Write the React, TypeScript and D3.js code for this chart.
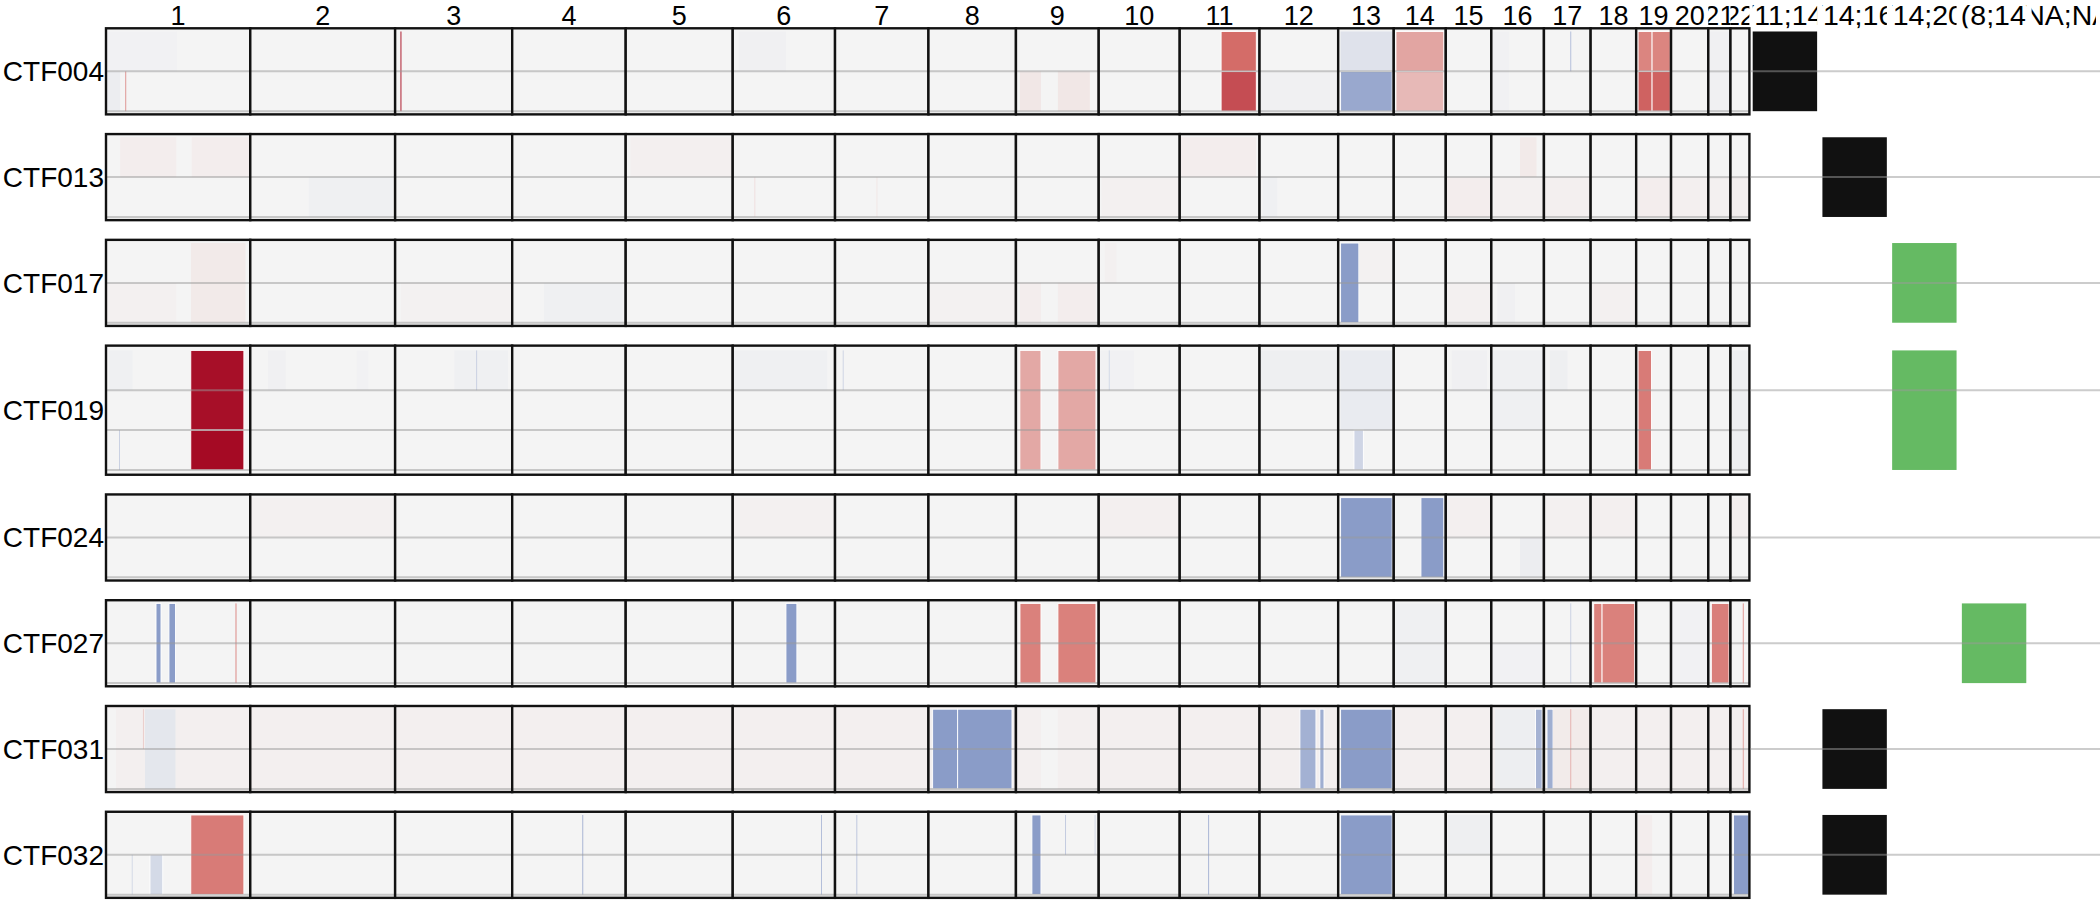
import * as d3 from "d3";
import { useEffect, useRef } from "react";

// chromosome facets, plotted span in Mb (acrocentric p-arms are not covered)
const chromosomes = ["1", "2", "3", "4", "5", "6", "7", "8", "9", "10", "11", "12", "13", "14", "15", "16", "17", "18", "19", "20", "21", "22"];
const chromLen = [244, 245, 198, 192, 181, 173, 158, 148, 140, 137, 135, 133, 94, 88, 77, 89, 79, 77, 59, 63, 37.5, 32];

const samples = ["CTF004", "CTF013", "CTF017", "CTF019", "CTF024", "CTF027", "CTF031", "CTF032"];
const trackCounts = [2, 2, 2, 3, 2, 2, 2, 2];
const baseValues = [0, 0, 0, 0, 0, 0, 0.035, 0];

const transTypes = ["t(11;14)", "t(14;16)", "t(14;20)", "t(8;14)", "t(NA;NA)"];
const sampleTrans = ["t(11;14)", "t(14;16)", "t(14;20)", "t(14;20)", null, "t(8;14)", "t(14;16)", "t(14;16)"];

// segments: [tracks, chromosome, start Mb, end Mb, log2 ratio]
const segCTF004 = [
  ["A", 1, 0, 120, -0.03],
  ["B", 1, 0, 24, -0.08],
  ["B", 1, 32.5, 33.8, 0.7],
  ["AB", 3, 9, 10.6, 1.8],
  ["A", 6, 10, 90, -0.04],
  ["B", 9, 6.6, 42.3, 0.1],
  ["B", 9, 71, 125, 0.1],
  ["A", 11, 70, 129.5, 1.05],
  ["B", 11, 70, 129.5, 1.35],
  ["B", 12, 0, 133, -0.04],
  ["A", 13, 4.1, 91.3, -0.2],
  ["B", 13, 4.1, 91.3, -0.86],
  ["A", 14, 3.7, 84.6, 0.6],
  ["B", 14, 3.7, 84.6, 0.45],
  ["AB", 16, 0, 30, -0.03],
  ["A", 17, 44.5, 45.6, -0.6],
  ["A", 19, 3.2, 26.9, 0.85],
  ["A", 19, 26.9, 57.7, 0.85],
  ["B", 19, 3.2, 26.9, 1.15],
  ["B", 19, 26.9, 57.7, 1.15],
  ["AB", 21, 0, 37.5, -0.04],
];

const segCTF013 = [
  ["A", 1, 24, 119, 0.05],
  ["A", 1, 145, 244, 0.05],
  ["B", 2, 99, 241, -0.05],
  ["A", 5, 8, 181, 0.04],
  ["B", 6, 36.5, 37.8, 0.15],
  ["B", 7, 70, 71.3, 0.1],
  ["B", 10, 5, 137, 0.03],
  ["A", 11, 2, 129, 0.05],
  ["B", 12, 5, 30, -0.05],
  ["B", 15, 0, 77, 0.05],
  ["A", 16, 48.5, 76.4, 0.08],
  ["B", 16, 5, 89, 0.03],
  ["B", 17, 0, 79, 0.04],
  ["B", 19, 0, 59, 0.05],
  ["B", 20, 0, 63, 0.04],
  ["B", 21, 0, 37.5, 0.03],
  ["B", 22, 0, 32, 0.04],
];

const segCTF017 = [
  ["B", 1, 0, 119, 0.03],
  ["AB", 1, 143.8, 236, 0.08],
  ["B", 3, 10, 198, 0.02],
  ["B", 4, 53.6, 187, -0.05],
  ["B", 8, 0, 148, 0.02],
  ["B", 9, 6.6, 42.3, 0.05],
  ["B", 9, 71, 135, 0.05],
  ["A", 10, 10, 30, 0.03],
  ["AB", 13, 4.1, 35, -1],
  ["A", 13, 35, 91.3, 0.02],
  ["B", 15, 0, 77, 0.03],
  ["B", 16, 10, 40, -0.04],
  ["B", 18, 0, 77, 0.03],
];

const segCTF019 = [
  ["A", 1, 5, 45, -0.05],
  ["C", 1, 22, 23.3, -0.4],
  ["AB", 1, 143.4, 233.2, 1.95],
  ["C", 1, 143.4, 233.2, 2.05],
  ["A", 2, 30, 60, -0.04],
  ["A", 2, 180, 200, -0.03],
  ["A", 3, 100, 191, -0.05],
  ["A", 3, 137, 138.3, -0.4],
  ["A", 6, 0, 160, -0.05],
  ["A", 7, 13, 14.3, -0.35],
  ["ABC", 9, 6.6, 42.3, 0.58],
  ["ABC", 9, 71, 135.3, 0.58],
  ["A", 10, 0, 60, -0.03],
  ["A", 10, 17, 18.3, -0.3],
  ["A", 12, 0, 133, -0.06],
  ["AB", 13, 4.1, 91.3, -0.1],
  ["C", 13, 26.7, 42.6, -0.35],
  ["A", 15, 10, 70, -0.04],
  ["AB", 16, 0, 89, -0.05],
  ["A", 17, 10, 40, -0.06],
  ["ABC", 19, 3.2, 25.9, 0.92],
  ["ABC", 22, 3, 32, -0.06],
];

const segCTF024 = [
  ["A", 2, 0, 245, 0.03],
  ["A", 6, 0, 173, 0.03],
  ["A", 10, 0, 137, 0.04],
  ["AB", 13, 4.1, 91.3, -1],
  ["AB", 14, 46, 84.6, -1],
  ["A", 15, 0, 77, 0.04],
  ["B", 16, 48.5, 85.7, -0.08],
  ["A", 17, 0, 79, 0.03],
  ["A", 18, 0, 77, 0.04],
  ["A", 22, 0, 32, 0.04],
];

const segCTF027 = [
  ["AB", 1, 84.6, 93, -1],
  ["AB", 1, 106.5, 117.5, -1],
  ["AB", 1, 219, 220.2, 0.8],
  ["AB", 6, 90, 108.5, -1],
  ["AB", 9, 6.8, 42.3, 0.88],
  ["AB", 9, 71, 135.3, 0.88],
  ["AB", 14, 0, 88, -0.05],
  ["B", 16, 0, 89, -0.03],
  ["AB", 17, 44.5, 45.6, -0.4],
  ["AB", 18, 5.2, 19.3, 0.88],
  ["AB", 18, 19.3, 74.5, 0.88],
  ["AB", 20, 0, 63, -0.03],
  ["AB", 21, 5.1, 35, 0.9],
  ["AB", 22, 20.8, 22.2, 0.7],
];

const segCTF031 = [
  ["AB", 1, 0, 17, 0],
  ["AB", 1, 66, 117.5, -0.15],
  ["A", 1, 62.5, 63.8, 0.3],
  ["AB", 8, 7.1, 49.4, -1],
  ["AB", 8, 49.4, 141.3, -1],
  ["AB", 9, 42.3, 71, 0],
  ["AB", 12, 68.3, 95.4, -0.76],
  ["AB", 12, 102, 109, -0.8],
  ["AB", 13, 4.1, 91.3, -1],
  ["AB", 16, 6.3, 74.8, -0.07],
  ["AB", 16, 74.8, 85.9, -0.75],
  ["AB", 17, 5.2, 15.4, -0.8],
  ["AB", 17, 15.4, 79, 0.07],
  ["AB", 17, 44.5, 45.6, 0.5],
  ["AB", 22, 20.8, 22.2, 0.6],
];

const segCTF032 = [
  ["B", 1, 43.5, 44.7, -0.3],
  ["B", 1, 74.4, 96, -0.3],
  ["AB", 1, 143.4, 233.2, 0.92],
  ["AB", 4, 118.5, 119.7, -0.7],
  ["AB", 6, 149.3, 150.5, -0.6],
  ["AB", 7, 36, 37.2, -0.5],
  ["AB", 9, 27, 42.3, -1],
  ["A", 9, 83, 84.2, -0.45],
  ["A", 9, 133, 134.2, -0.3],
  ["AB", 11, 48, 49.2, -0.7],
  ["AB", 13, 4.1, 91.3, -1],
  ["A", 15, 3.7, 75, -0.06],
  ["AB", 19, 3.2, 27, 0.05],
  ["AB", 22, 5, 31.3, -1],
];

const sampleSegments = [segCTF004, segCTF013, segCTF017, segCTF019, segCTF024, segCTF027, segCTF031, segCTF032];

const CopyNumberGrid = () => {
  const svgRef = useRef<SVGSVGElement>(null);
  const font = "'Liberation Sans', Arial, Helvetica, sans-serif";
  const transColor: Record<string, string> = {
    "t(11;14)": "#111111",
    "t(14;16)": "#111111",
    "t(14;20)": "#65ba63",
    "t(8;14)": "#65ba63",
  };

  const renderSVG = () => {
    const dims = {
      width: 2100,
      height: 900,
      left: 106,
      right: 1749.4,
      top: 28.3,
      trackH: 39.85,
      expand: 0.04,
      rowGap: 19.7,
      transLeft: 1752.7,
      transRight: 2096,
      labelY: 25,
    };

    const total = d3.sum(chromLen);
    const starts = [0, ...Array.from(d3.cumsum(chromLen))].slice(0, chromLen.length);
    const x = d3.scaleLinear([0, total], [dims.left, dims.right]);
    const color = d3
      .scaleLinear<string>()
      .domain([-1, 0, 1, 2])
      .range(["#8a9cc8", "#f4f4f4", "#d6716c", "#a50a24"])
      .clamp(true);
    const xt = d3
      .scaleBand<string>()
      .domain(transTypes)
      .range([dims.transLeft, dims.transRight])
      .paddingInner(0.076);

    // stack the sample rows, height follows the number of tracks
    let yCur = dims.top;
    const rows = samples.map((name, i) => {
      const n = trackCounts[i];
      const pad = n * dims.trackH * dims.expand;
      const h = n * dims.trackH + 2 * pad;
      const r = { name, i, n, y0: yCur, h, cellTop: yCur + pad };
      yCur += h + dims.rowGap;
      return r;
    });

    svgRef.current.innerHTML = "";
    const svg = d3
      .select(svgRef.current)
      .attr("width", dims.width)
      .attr("height", dims.height)
      .attr("viewBox", [0, 0, dims.width, dims.height]);

    const defs = svg.append("defs");
    chromosomes.forEach((c, i) => {
      defs
        .append("clipPath")
        .attr("id", `clip-chr-${i}`)
        .append("rect")
        .attr("x", x(starts[i]))
        .attr("y", 0)
        .attr("width", x(starts[i] + chromLen[i]) - x(starts[i]))
        .attr("height", dims.top);
    });
    transTypes.forEach((t, i) => {
      defs
        .append("clipPath")
        .attr("id", `clip-tr-${i}`)
        .append("rect")
        .attr("x", xt(t))
        .attr("y", 0)
        .attr("width", xt.bandwidth())
        .attr("height", dims.top);
    });

    // strip labels, clipped to their facet like ggplot does
    svg
      .append("g")
      .selectAll("text")
      .data(chromosomes)
      .join("text")
      .attr("x", (d, i) => x(starts[i] + chromLen[i] / 2))
      .attr("y", dims.labelY)
      .attr("text-anchor", "middle")
      .attr("font-family", font)
      .attr("font-size", 27)
      .attr("clip-path", (d, i) => `url(#clip-chr-${i})`)
      .text((d) => d);

    svg
      .append("g")
      .selectAll("text")
      .data(transTypes)
      .join("text")
      .attr("x", (d) => xt(d) + xt.bandwidth() / 2)
      .attr("y", dims.labelY)
      .attr("text-anchor", "middle")
      .attr("font-family", font)
      .attr("font-size", 28.5)
      .attr("clip-path", (d, i) => `url(#clip-tr-${i})`)
      .text((d) => d);

    const trackY = (tracks: string) => tracks.charCodeAt(0) - 65;

    rows.forEach((row) => {
      const g = svg.append("g");
      const segs = sampleSegments[row.i];

      g.append("text")
        .attr("x", dims.left - 2)
        .attr("y", row.y0 + row.h / 2 + 10)
        .attr("text-anchor", "end")
        .attr("font-family", font)
        .attr("font-size", 28)
        .text(row.name);

      chromosomes.forEach((c, ci) => {
        const x0 = x(starts[ci]);
        const x1 = x(starts[ci] + chromLen[ci]);
        const p = g.append("g");

        p.append("rect")
          .attr("x", x0)
          .attr("y", row.y0)
          .attr("width", x1 - x0)
          .attr("height", row.h)
          .attr("fill", color(baseValues[row.i]));

        p.selectAll("rect.seg")
          .data(segs.filter((s) => s[1] === ci + 1))
          .join("rect")
          .attr("class", "seg")
          .attr("x", (s) => x(starts[ci] + s[2]))
          .attr("y", (s) => row.cellTop + trackY(s[0]) * dims.trackH)
          .attr("width", (s) => Math.max(1, x(starts[ci] + s[3]) - x(starts[ci] + s[2])))
          .attr("height", (s) => s[0].length * dims.trackH)
          .attr("fill", (s) => color(s[4]))
          .attr("stroke", (s) => (x(s[3]) - x(s[2]) > 3 && Math.abs(s[4]) > 0.2 ? "#ffffff" : "none"))
          .attr("stroke-width", 0.9);

        // track separators
        p.selectAll("line")
          .data(d3.range(row.n))
          .join("line")
          .attr("x1", x0)
          .attr("x2", x1)
          .attr("y1", (k) => row.cellTop + (k + 1) * dims.trackH)
          .attr("y2", (k) => row.cellTop + (k + 1) * dims.trackH)
          .attr("stroke", "#9a9a9a")
          .attr("stroke-opacity", 0.5)
          .attr("stroke-width", 2);

        p.append("rect")
          .attr("x", x0)
          .attr("y", row.y0)
          .attr("width", x1 - x0)
          .attr("height", row.h)
          .attr("fill", "none")
          .attr("stroke", "#111111")
          .attr("stroke-width", 2.4);
      });

      const tr = sampleTrans[row.i];
      if (tr) {
        g.append("rect")
          .attr("x", xt(tr))
          .attr("y", row.cellTop)
          .attr("width", xt.bandwidth())
          .attr("height", row.n * dims.trackH)
          .attr("fill", transColor[tr]);
      }

      g.append("line")
        .attr("x1", dims.right + 1.2)
        .attr("x2", dims.width)
        .attr("y1", row.cellTop + dims.trackH)
        .attr("y2", row.cellTop + dims.trackH)
        .attr("stroke", "#9a9a9a")
        .attr("stroke-opacity", 0.5)
        .attr("stroke-width", 2);
    });
  };

  useEffect(() => {
    renderSVG();
  });

  return <svg ref={svgRef} style={{ position: "absolute", left: 0, top: 0, display: "block" }} />;
};

export default function App() {
  return <CopyNumberGrid />;
}
